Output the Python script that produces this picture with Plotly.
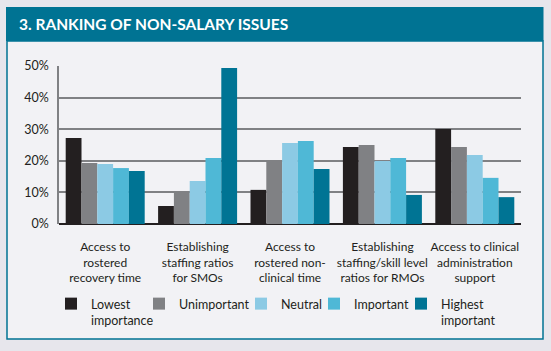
import plotly.graph_objects as go

categories = [
    "Access to<br>rostered<br>recovery time",
    "Establishing<br>staffing ratios<br>for SMOs",
    "Access to<br>rostered non-<br>clinical time",
    "Establishing<br>staffing/skill level<br>ratios for RMOs",
    "Access to clinical<br>administration<br>support",
]
series_names = ["Lowest<br>importance", "Unimportant", "Neutral", "Important", "Highest<br>important"]
lowest = [27.2, 5.7, 10.8, 24.4, 30.1]
unimportant = [19.3, 10.1, 19.9, 25.0, 24.4]
neutral = [19.0, 13.6, 25.6, 19.9, 21.8]
important = [17.7, 20.9, 26.3, 20.9, 14.6]
highest = [16.8, 49.4, 17.4, 9.2, 8.5]
y_ticks = [0, 10, 20, 30, 40, 50]
y_tick_labels = ["0%", "10%", "20%", "30%", "40%", "50%"]
title_text = "3. RANKING OF NON-SALARY ISSUES"

series_values = [lowest, unimportant, neutral, important, highest]
colors = ["#231f20", "#808184", "#8ccae4", "#4fb8d6", "#007494"]

W, H = 551, 351
L, R, T, B = 59, 521, 66, 224
FONT = "Lato, Roboto, sans-serif"
TXT = "#231f20"


def px_x(p):
    return (p - L) / (R - L)


def px_y(p):
    return (B - p) / (B - T)


fig = go.Figure()
legend_text_x = [89, 177, 279, 352, 439]
legend_ids = ["legend", "legend2", "legend3", "legend4", "legend5"]
for name, vals, col, lid in zip(series_names, series_values, colors, legend_ids):
    fig.add_trace(go.Bar(x=categories, y=vals, name=name, marker_color=col,
                         marker_line_width=0, legend=lid))

shapes = [
    # panel body
    dict(type="rect", xref="paper", yref="paper", x0=px_x(7), x1=px_x(543),
         y0=px_y(339), y1=px_y(41), fillcolor="#f2f2f5",
         line=dict(color="#007393", width=1.5), layer="below"),
    # header band
    dict(type="rect", xref="paper", yref="paper", x0=px_x(6), x1=px_x(543.5),
         y0=px_y(41), y1=px_y(7), fillcolor="#007393", line_width=0, layer="below"),
]

layout_legends = {}
for lid, tx in zip(legend_ids, legend_text_x):
    layout_legends[lid] = dict(
        xref="paper", yref="paper",
        x=px_x(tx - 38), y=px_y(289), xanchor="left", yanchor="top",
        orientation="v",
        bgcolor="rgba(0,0,0,0)", borderwidth=0, valign="top", tracegroupgap=0,
        font=dict(family=FONT, size=12.5, color=TXT),
        itemclick=False, itemdoubleclick=False,
    )

fig.update_layout(
    width=W, height=H,
    margin=dict(l=L, r=W - R, t=T, b=H - B, autoexpand=False),
    paper_bgcolor="#e7e6ec",
    plot_bgcolor="rgba(0,0,0,0)",
    barmode="group", bargap=0.145, bargroupgap=0,
    shapes=shapes,
    showlegend=True,
    annotations=[dict(text="<b>" + title_text + "</b>", xref="paper", yref="paper",
                      x=px_x(17), y=px_y(24), xanchor="left", yanchor="middle",
                      showarrow=False,
                      font=dict(family=FONT, size=15.5, color="#ffffff"))],
    xaxis=dict(showgrid=False, ticks="", showline=False, automargin=False,
               ticklabelstandoff=14,
               tickfont=dict(family=FONT, size=12, color=TXT)),
    yaxis=dict(range=[0, 50], tickmode="array", tickvals=y_ticks, ticktext=y_tick_labels,
               automargin=False,
               showgrid=True, gridcolor="#808184", gridwidth=1.5,
               showline=True, linecolor="#808184", linewidth=1.5,
               zeroline=True, zerolinecolor=TXT, zerolinewidth=2,
               ticks="", ticklabelstandoff=6,
               tickfont=dict(family=FONT, size=12.5, color=TXT)),
    **layout_legends,
)

fig.write_html("out.html")
